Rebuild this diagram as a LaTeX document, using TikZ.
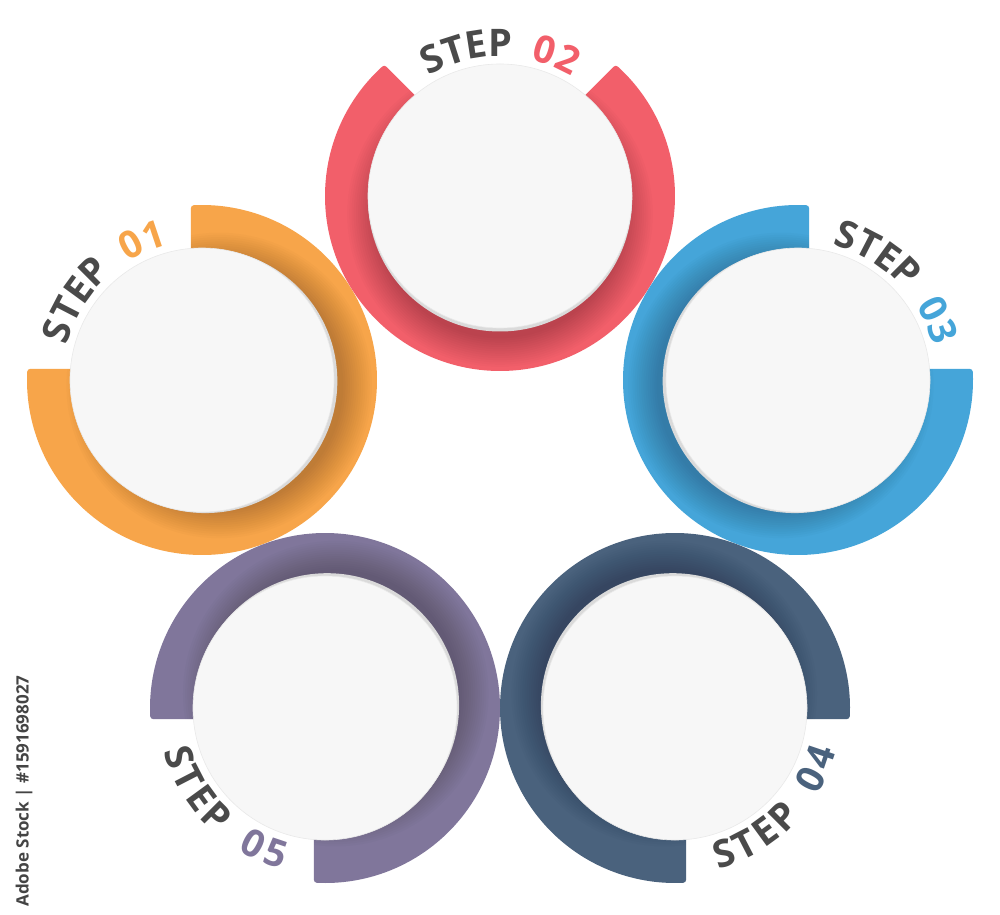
\documentclass[tikz,border=0pt]{standalone}
\usepackage{fontspec}
\newfontfamily\stepfont{Open Sans}
\usetikzlibrary{calc}
\definecolor{cred}{HTML}{F25F6A}
\definecolor{corange}{HTML}{F7A54A}
\definecolor{cblue}{HTML}{45A5D9}
\definecolor{cnavy}{HTML}{4A627D}
\definecolor{cpurple}{HTML}{80769B}
\definecolor{txtgray}{HTML}{4A4A4A}
\definecolor{discwhite}{HTML}{F7F7F7}
\definecolor{lipgray}{HTML}{DADADA}
\definecolor{wmgray}{HTML}{444444}
\tikzset{
  lettr/.style={inner sep=0pt, outer sep=0pt, anchor=center,
    font=\stepfont\bfseries\fontsize{38}{38}\selectfont},
  wmtext/.style={inner sep=0pt, rotate=90, text=wmgray,
    font=\stepfont\bfseries\fontsize{17}{17}\selectfont},
  shadowstep/.style={black, opacity=0.014},
  discfill/.style={fill=discwhite, draw=lipgray!60, line width=0.6pt}
}
% #1 id, #2 bisector of the gap, #3 colour, #4 shadow direction
\newcommand{\drawring}[4]{%
  \pgfmathsetmacro{\angA}{#2+42.3}%
  \pgfmathsetmacro{\angB}{#2+317.7}%
  \pgfmathsetmacro{\angC}{#2+41.4}%
  \pgfmathsetmacro{\angD}{#2+318.6}%
  \fill[#3, draw=#3, line width=6pt, line join=round]
    ($(c#1)+(\angA:172)$) arc[start angle=\angA, end angle=\angB, radius=172]
    -- ($(c#1)+(#2:11.3)$) -- cycle;
  \begin{scope}
    \clip ($(c#1)+(\angC:175)$) arc[start angle=\angC, end angle=\angD, radius=175]
      -- ($(c#1)+(#2:15.6)$) -- cycle;
    \foreach \k in {1,...,14}{\fill[shadowstep] ($(c#1)+(#4:18)$) circle ({122+2.2*\k});}
  \end{scope}
  \fill[lipgray] ($(c#1)+(#4:3.5)$) circle (132);
  \path[discfill] (c#1) circle (132);
}
% #1 id, #2 bisector, #3 sign, #4 rotation offset, #5 colour, #6 #7 digits
\newcommand{\steplabel}[7]{%
  \foreach \ch/\ra/\cl [count=\i] in {S/-26.4/txtgray, T/-17.7/txtgray,
      E/-8.9/txtgray, P/0/txtgray, #6/17.2/#5, #7/26.4/#5}{
    \pgfmathsetmacro{\myang}{#2+(#3)*(\ra)}
    \pgfmathsetmacro{\myrot}{\myang+(#4)}
    \node[lettr, text=\cl, rotate=\myrot] (t#1-\i) at ($(c#1)+(\myang:153)$) {\ch};
  }}
\begin{document}
\begin{tikzpicture}[x=1pt, y=1pt]
\useasboundingbox (0,0) rectangle (1000,914);
\fill[white] (0,0) rectangle (1000,914);
\coordinate (c01) at (202,534);
\coordinate (c02) at (500,718);
\coordinate (c03) at (798,534);
\coordinate (c04) at (675,206);
\coordinate (c05) at (325,206);
\drawring{01}{135}{corange}{-17.6}
\drawring{02}{90}{cred}{-90}
\drawring{03}{45}{cblue}{197.6}
\drawring{04}{-45}{cnavy}{126.8}
\drawring{05}{-135}{cpurple}{53.2}
\steplabel{01}{135}{-1}{-90}{corange}{0}{1}
\steplabel{02}{90}{-1}{-90}{cred}{0}{2}
\steplabel{03}{45}{-1}{-90}{cblue}{0}{3}
\steplabel{04}{-45}{1}{90}{cnavy}{0}{4}
\steplabel{05}{-135}{1}{90}{cpurple}{0}{5}
\node[wmtext] (wm) at (24,123) {Adobe Stock | \#1591698027};
\end{tikzpicture}
\end{document}
